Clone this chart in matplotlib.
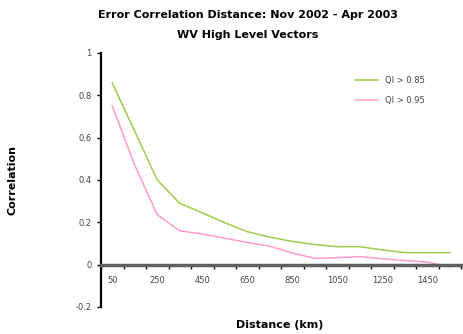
import matplotlib.pyplot as plt
import numpy as np

# distance bins (km), one category per 100 km
distance = [50, 150, 250, 350, 450, 550, 650, 750, 850, 950, 1050, 1150, 1250, 1350, 1450, 1550]
qi_85 = [0.858, 0.63, 0.40, 0.29, 0.245, 0.198, 0.156, 0.13, 0.11, 0.095, 0.085, 0.085, 0.07, 0.057, 0.057, 0.057]
qi_95 = [0.75, 0.47, 0.236, 0.16, 0.145, 0.125, 0.105, 0.087, 0.055, 0.03, 0.033, 0.038, 0.028, 0.02, 0.012, -0.01]
y_ticks = [-0.2, 0, 0.2, 0.4, 0.6, 0.8, 1]
y_labels = ['-0.2', '0', '0.2', '0.4', '0.6', '0.8', '1']

plt.rcParams['font.family'] = ['DejaVu Sans']

fig = plt.figure(figsize=(4.63, 3.34), dpi=100)
ax = fig.add_axes([101/463, 27/334, 360/463, 254/334])

x = np.arange(len(distance))
ax.plot(x, qi_85, color='#9acd4c', lw=1.1, label='QI > 0.85')
ax.plot(x, qi_95, color='#ff9ccc', lw=1.1, label='QI > 0.95')

ax.set_xlim(-0.5, len(distance) - 0.5)
ax.set_ylim(-0.2, 1)

ax.spines['top'].set_visible(False)
ax.spines['right'].set_visible(False)
ax.spines['left'].set_linewidth(1.6)
ax.spines['left'].set_color('black')
ax.spines['bottom'].set_position(('data', 0))
ax.spines['bottom'].set_color('#606060')
ax.spines['bottom'].set_linewidth(2.5)

# ticks between categories, labels on every other category
ax.set_xticks(np.arange(len(distance) + 1) - 0.5)
ax.set_xticklabels([])
ax.tick_params(axis='x', which='major', direction='out', length=3, width=1, color='black')
ax.set_xticks(x[::2], minor=True)
ax.set_xticklabels([str(d) for d in distance[::2]], minor=True)
ax.tick_params(axis='x', which='minor', length=0, pad=8, labelsize=6, labelcolor='#444444')

ax.set_yticks(y_ticks)
ax.set_yticklabels(y_labels)
ax.tick_params(axis='y', direction='out', length=3, width=1, pad=4, labelsize=6, labelcolor='#444444')

fig.text(0.535, 0.955, 'Error Correlation Distance: Nov 2002 - Apr 2003', ha='center', va='center',
         fontsize=8, fontweight='bold')
fig.text(0.535, 0.895, 'WV High Level Vectors', ha='center', va='center', fontsize=8, fontweight='bold')
fig.text(0.028, 0.461, 'Correlation', rotation=90, ha='center', va='center', fontsize=8, fontweight='bold')
fig.text(0.605, 0.027, 'Distance (km)', ha='center', va='center', fontsize=8, fontweight='bold')

ax.legend(loc='upper left', bbox_to_anchor=(0.705, 0.909), frameon=False, fontsize=6,
          borderpad=0, borderaxespad=0, handlelength=2.8, handletextpad=0.85,
          labelspacing=1.3, labelcolor='#444444')

fig.savefig('out.png', dpi=100)
